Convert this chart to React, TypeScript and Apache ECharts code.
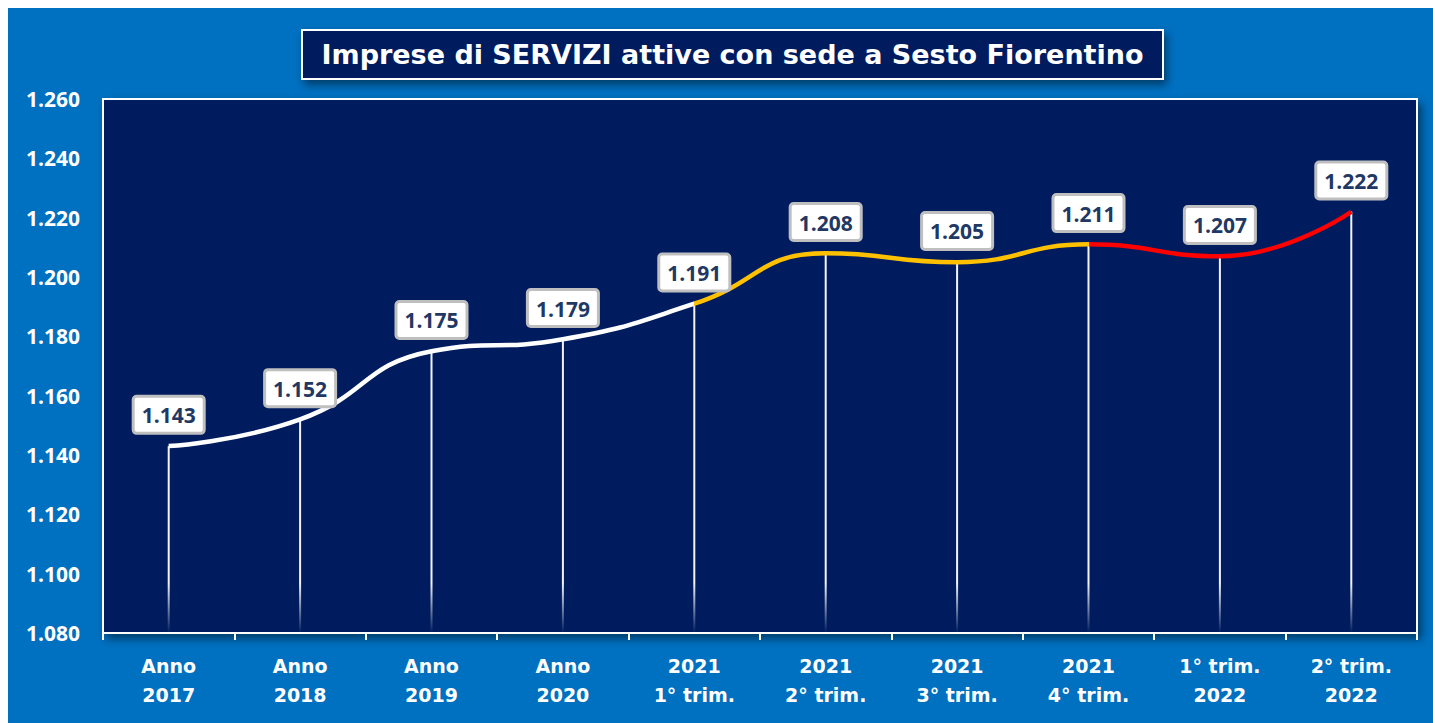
import React, { useEffect, useRef } from "react";
import * as echarts from "echarts";

const categories = [
  "Anno\n2017",
  "Anno\n2018",
  "Anno\n2019",
  "Anno\n2020",
  "2021\n1° trim.",
  "2021\n2° trim.",
  "2021\n3° trim.",
  "2021\n4° trim.",
  "1° trim.\n2022",
  "2° trim.\n2022",
];
const values = [1143, 1152, 1175, 1179, 1191, 1208, 1205, 1211, 1207, 1222];
const titleText = "Imprese di SERVIZI attive con sede a Sesto Fiorentino";
const yMin = 1080;
const yMax = 1260;
const yStep = 20;

const fmt = (v: number) => (v / 1000).toFixed(3);

export default function App() {
  const ref = useRef<HTMLDivElement>(null);
  useEffect(() => {
    if (!ref.current) return;
    const chart = echarts.init(ref.current, null, { renderer: "svg" });
    const gridLeft = 95,
      gridTop = 91,
      gridRight = 16,
      gridBottom = 90;
    const titleX = 294,
      titleY = 22,
      titleW = 861,
      titleH = 49;
    chart.setOption({
      animation: false,
      backgroundColor: "#0070C0",
      grid: {
        left: gridLeft,
        top: gridTop,
        right: gridRight,
        bottom: gridBottom,
        show: true,
        backgroundColor: "#001F5F",
        borderColor: "#FFFFFF",
        borderWidth: 2,
        shadowColor: "rgba(0,0,0,0.45)",
        shadowBlur: 8,
        shadowOffsetX: 4,
        shadowOffsetY: 5,
        containLabel: false,
      },
      graphic: [
        {
          type: "rect",
          shape: { x: titleX, y: titleY, width: titleW, height: titleH },
          style: {
            fill: "#001F5F",
            stroke: "#FFFFFF",
            lineWidth: 2,
            shadowColor: "rgba(0,0,0,0.45)",
            shadowBlur: 8,
            shadowOffsetX: 3,
            shadowOffsetY: 5,
          },
          z: 10,
        },
        {
          type: "text",
          x: titleX + titleW / 2,
          y: titleY + titleH / 2,
          style: {
            text: titleText,
            fill: "#FFFFFF",
            font: "bold 27px 'DejaVu Sans'",
            textAlign: "center",
            textVerticalAlign: "middle",
          },
          z: 11,
        },
      ],
      visualMap: {
        show: false,
        type: "piecewise",
        dimension: 0,
        seriesIndex: 1,
        pieces: [
          { lt: 4, color: "#FFFFFF" },
          { gte: 4, lt: 7, color: "#FFC000" },
          { gte: 7, color: "#FF0000" },
        ],
      },
      xAxis: {
        type: "category",
        data: categories,
        boundaryGap: true,
        axisLine: { show: true, lineStyle: { color: "#FFFFFF", width: 2 } },
        axisTick: {
          show: true,
          alignWithLabel: false,
          length: 7,
          lineStyle: { color: "#FFFFFF", width: 2 },
        },
        axisLabel: {
          color: "#FFFFFF",
          fontFamily: "DejaVu Sans",
          fontWeight: "bold",
          fontSize: 19,
          lineHeight: 29,
          margin: 18,
          interval: 0,
        },
        splitLine: { show: false },
      },
      yAxis: {
        type: "value",
        min: yMin,
        max: yMax,
        interval: yStep,
        axisLine: { show: false },
        axisTick: { show: false },
        splitLine: { show: false },
        axisLabel: {
          color: "#FFFFFF",
          fontFamily: "Open Sans",
          fontWeight: "bold",
          fontSize: 21,
          margin: 23,
          formatter: (v: number) => fmt(v),
        },
      },
      series: [
        {
          type: "bar",
          data: values,
          barWidth: 2,
          z: 1,
          itemStyle: {
            color: new echarts.graphic.LinearGradient(
              0,
              575,
              0,
              625,
              [
                { offset: 0, color: "rgba(255,255,255,0.95)" },
                { offset: 1, color: "rgba(255,255,255,0)" },
              ],
              true
            ),
          },
          emphasis: { disabled: true },
        },
        {
          type: "line",
          data: values,
          smooth: 0.5,
          showSymbol: false,
          symbol: "none",
          z: 2,
          lineStyle: { width: 4.5 },
          emphasis: { disabled: true },
        },
        {
          type: "scatter",
          data: values,
          symbol: "circle",
          symbolSize: 0.5,
          z: 3,
          itemStyle: { color: "#FFFFFF", opacity: 1 },
          label: {
            show: true,
            position: "top",
            distance: 14,
            opacity: 1,
            formatter: (p: any) => fmt(p.value),
            color: "#1F3864",
            fontFamily: "Open Sans",
            fontWeight: "bold",
            fontSize: 21,
            lineHeight: 23,
            backgroundColor: "#FFFFFF",
            borderColor: "#BFBFBF",
            borderWidth: 3,
            borderRadius: 2,
            padding: [6, 7, 5, 7],
          },
          emphasis: { disabled: true },
        },
      ],
    });
    return () => chart.dispose();
  }, []);
  return (
    <div style={{ position: "fixed", left: 0, top: 0, width: "100vw", height: "100vh", overflow: "hidden", background: "#FFFFFF" }}>
      <div ref={ref} style={{ position: "absolute", left: 8, top: 8, width: 1425, height: 715 }} />
    </div>
  );
}
